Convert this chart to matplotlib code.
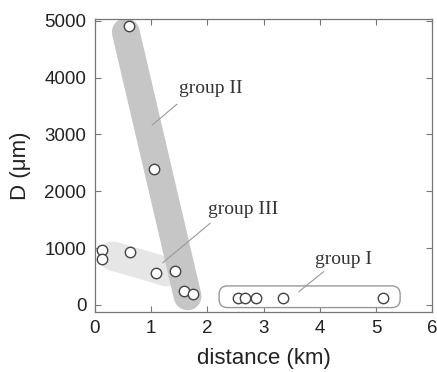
import matplotlib
matplotlib.use("Agg")
import matplotlib.pyplot as plt
from matplotlib.patches import FancyBboxPatch

# data
g1_x = [2.54, 2.67, 2.86, 3.35, 5.12]
g1_y = [125, 125, 125, 125, 125]
g2_x = [0.60, 1.05, 1.59, 1.74]
g2_y = [4900, 2390, 250, 190]
g3_x = [0.13, 0.13, 0.62, 1.08, 1.42]
g3_y = [970, 800, 930, 570, 590]

band2_x = [0.55, 1.65]
band2_y = [4800, 150]
band3_x = [0.32, 1.29]
band3_y = [860, 580]
box1 = (2.21, -47, 5.43, 334)  # x0, y0, x1, y1

labels = ["group I", "group II", "group III"]
label_xy = [(3.91, 800), (1.49, 3800), (2.02, 1680)]
leader = [((3.63, 234), (4.07, 585)), ((1.02, 3165), (1.46, 3530)), ((1.21, 743), (2.05, 1435))]

xticks = [0, 1, 2, 3, 4, 5, 6]
yticks = [0, 1000, 2000, 3000, 4000, 5000]

plt.rcParams['font.family'] = ['Liberation Sans', 'DejaVu Sans']
fig = plt.figure(figsize=(4.37, 3.72), dpi=100)
ax = fig.add_axes([0.217, 0.162, 0.772, 0.787])

ax.set_xlim(0, 6)
ax.set_ylim(-120, 5030)

ax.plot(band3_x, band3_y, color='#e6e6e6', lw=21, solid_capstyle='round', zorder=1)
ax.plot(band2_x, band2_y, color='#c6c6c6', lw=20, solid_capstyle='round', zorder=2)

x0, y0, x1, y1 = box1
box = FancyBboxPatch((x0, y0), x1 - x0, y1 - y0,
                     boxstyle="round,pad=0,rounding_size=0.15",
                     mutation_aspect=(5150 / 6) * (337 / 293),
                     facecolor='white', edgecolor='#999999', lw=1.0, zorder=2)
ax.add_patch(box)

mk = dict(marker='o', ls='none', ms=7.5, mfc='white', mec='#444444', mew=1.0, zorder=5)
ax.plot(g1_x, g1_y, **mk)
ax.plot(g2_x, g2_y, **mk)
ax.plot(g3_x, g3_y, **mk)

for (p0, p1) in leader:
    ax.plot([p0[0], p1[0]], [p0[1], p1[1]], color='#999999', lw=0.8, zorder=4)
for lab, (lx, ly) in zip(labels, label_xy):
    ax.text(lx, ly, lab, fontsize=14, family=['Liberation Serif', 'DejaVu Serif'],
            va='center', ha='left', color='#333333', zorder=6)

ax.set_xticks(xticks)
ax.set_yticks(yticks)
ax.tick_params(direction='in', length=4, width=0.8, color='#777777',
               top=True, right=True, labelsize=13.5, pad=6, labelcolor='#222222')
for s in ax.spines.values():
    s.set_color('#777777')
    s.set_linewidth(0.9)

ax.set_xlabel('distance (km)', fontsize=16, labelpad=8, color='#222222')
ax.set_ylabel('D (μm)', fontsize=16, labelpad=10, color='#222222')

fig.savefig('out.png', dpi=100)
